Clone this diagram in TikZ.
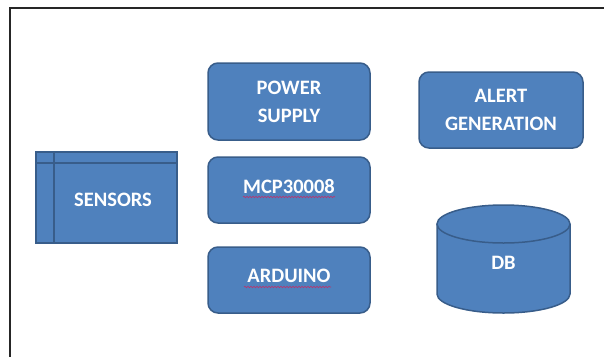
\documentclass[tikz,border=0pt]{standalone}
\usepackage{fontspec}
\setmainfont{Carlito}
\usetikzlibrary{positioning, calc}
\usetikzlibrary{decorations.pathmorphing}

\definecolor{boxfill}{HTML}{4F81BD}
\definecolor{boxline}{HTML}{385D8A}
\definecolor{spell}{HTML}{C0306A}

\tikzset{
  block/.style={draw=boxline, fill=boxfill, line width=1.5pt, rounded corners=10pt,
    text=white, font=\bfseries\fontsize{20.5}{28}\selectfont, align=center, inner sep=0pt},
  lifted/.style={text depth=8pt},
  squiggle/.style={draw=spell, line width=0.6pt, decorate,
    decoration={snake, amplitude=0.7pt, segment length=3pt}}
}

\begin{document}
\begin{tikzpicture}[x=1pt, y=-1pt]
      \useasboundingbox (0,0) rectangle (604,356);
      \fill[white] (0,0) rectangle (604,356);
      \draw[line width=1.5pt, black!85] (10,360) -- (10,8) -- (608,8);

      % sensors, with the two inner lines
      \node[block, rounded corners=0pt, minimum width=141pt, minimum height=91pt] (sensors) at (106.5,197.5) {};
      \draw[boxline, line width=2pt] (54,152) -- (54,243);
      \draw[boxline, line width=1.5pt] (36,163) -- (177,163);
      \node[text=white, font=\bfseries\fontsize{20.5}{28}\selectfont] (sensorstxt) at (113,200) {SENSORS};

      \node[block, minimum width=162pt, minimum height=77pt] (power) at (289,101.5) {POWER\\SUPPLY};
      \node[block, lifted, minimum width=162pt, minimum height=66pt] (mcp) at (289,190) {MCP30008};
      \node[block, lifted, minimum width=162pt, minimum height=66pt] (arduino) at (289,280) {ARDUINO};
      \node[block, minimum width=164pt, minimum height=76pt] (alert) at (501,110) {ALERT\\GENERATION};

      % database cylinder
      \draw[boxline, fill=boxfill, line width=1.5pt] (437,224) -- (437,294) arc[start angle=180, end angle=0, x radius=66.5, y radius=19] -- (570,224);
      \draw[boxline, fill=boxfill, line width=1.5pt] (503.5,224) ellipse[x radius=66.5, y radius=19];
      \node[text=white, font=\bfseries\fontsize{20.5}{28}\selectfont] (db) at (503.5,263) {DB};

      % spell check marks
      \draw[squiggle] ($(mcp.center)+(-46,7)$) -- ($(mcp.center)+(46,7)$);
      \draw[squiggle] ($(arduino.center)+(-45,7)$) -- ($(arduino.center)+(42,7)$);
    \end{tikzpicture}
\end{document}
